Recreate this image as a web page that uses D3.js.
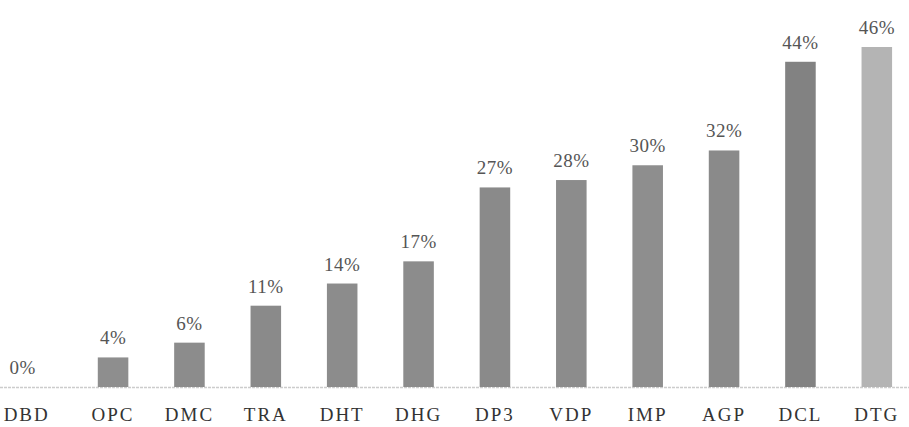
<!DOCTYPE html>
<html><head><meta charset="utf-8">
<script src="https://cdn.jsdelivr.net/npm/d3@7"></script>
<style>body{margin:0;background:#fff;}svg{display:block;}</style>
</head><body>
<script>
const categories = ["DBD","OPC","DMC","TRA","DHT","DHG","DP3","VDP","IMP","AGP","DCL","DTG"];
const values = [0,4,6,11,14,17,27,28,30,32,44,46];
const barColors = ["#8c8c8c","#8e8e8e","#8c8c8c","#8a8a8a","#8c8c8c","#8c8c8c","#8a8a8a","#8c8c8c","#8e8e8e","#8a8a8a","#828282","#b4b4b4"];

const W = 909, H = 427;
const svg = d3.select("body").append("svg").attr("width", W).attr("height", H);
const baseY = 387;
const x = d3.scaleBand().domain(categories).range([-1.5, 915]).paddingInner(0.6).paddingOuter(0.3);
const y = d3.scaleLinear().domain([0, 46]).range([baseY, 47]);

svg.append("line").attr("x1", 0).attr("x2", W).attr("y1", baseY + 0.5).attr("y2", baseY + 0.5)
  .attr("stroke", "#cccccc").attr("stroke-width", 1.5).attr("stroke-dasharray", "3,1");

svg.selectAll("rect.bar").data(values).join("rect").attr("class", "bar")
  .attr("x", (d, i) => x(categories[i]))
  .attr("width", x.bandwidth())
  .attr("y", d => y(d))
  .attr("height", d => baseY - y(d))
  .attr("fill", (d, i) => barColors[i]);

svg.selectAll("text.val").data(values).join("text").attr("class", "val")
  .attr("x", (d, i) => x(categories[i]) + x.bandwidth() / 2 - (i === 0 ? 14 : 0))
  .attr("y", d => y(d) - 13)
  .attr("text-anchor", "middle")
  .attr("font-family", "Liberation Serif, serif")
  .attr("font-size", 19)
  .attr("letter-spacing", 0.5)
  .attr("fill", "#555")
  .text(d => d + "%");

const xAxis = d3.axisBottom(x).tickSize(0).tickPadding(0);
const g = svg.append("g").attr("transform", `translate(0,${baseY})`).call(xAxis);
g.select(".domain").remove();
g.selectAll("text")
  .attr("y", 34)
  .attr("dy", 0)
  .attr("dx", (d, i) => i === 0 ? -10 : 0)
  .attr("font-family", "Liberation Serif, serif")
  .attr("font-size", 19)
  .attr("letter-spacing", 2)
  .attr("fill", "#333");
</script>
</body></html>
